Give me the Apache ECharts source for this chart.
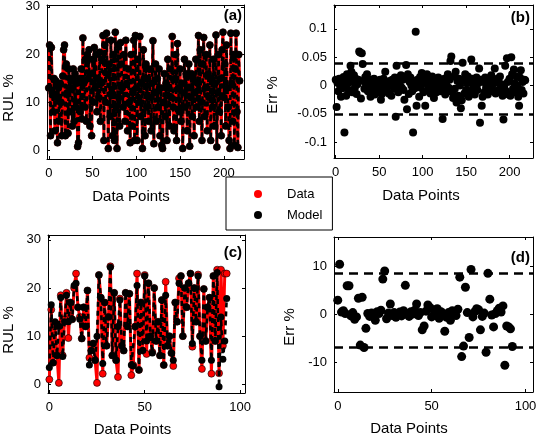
<!DOCTYPE html>
<html><head><meta charset="utf-8">
<script src="https://cdn.jsdelivr.net/npm/echarts@6/dist/echarts.min.js"></script>
<style>html,body{margin:0;padding:0;background:#fff}#c{width:542px;height:442px}</style>
</head><body><div id="c"></div>
<script>
// Panel (a): RUL % (Data and Model coincide visually)
const dataA = [
13, 22, 3, 21.5, 12, 8, 15, 4, 14.5, 11,
1.5, 13, 6, 14, 10, 3, 15.5, 21, 22, 3,
18, 12, 3.5, 17, 8, 15, 13, 5, 17, 6,
16, 9, 14, 0.7, 1.5, 15, 8, 17, 6.5, 23.5,
14, 9, 19, 6, 20, 15, 21, 5, 16, 3,
19, 10, 21.5, 13, 20, 8, 15, 11, 20.5, 6,
14, 19, 24, 2, 22, 10, 24.5, 16, 0.3, 18,
7, 23, 12, 3, 20, 2, 24.7, 9, 0.3, 22,
11, 5, 22.5, 18, 13, 9, 20, 6, 23, 14,
4, 17, 10, 1.5, 20, 5, 12, 23, 2, 24,
13, 2, 19, 10, 23.8, 7, 14, 0.3, 21, 15,
3, 18, 9, 15, 6, 17, 11, 4, 14, 22.9,
1.3, 12, 18, 6, 15, 9, 17, 3, 13, 1,
0.3, 10, 16, 7, 14, 2, 19, 13, 5, 17,
11, 23.8, 9, 4, 15, 20, 2, 22.3, 13, 8,
17, 6, 14, 0.3, 12, 19, 9, 16, 4, 13,
18, 0.8, 11, 16, 7, 15, 3, 12, 19, 9,
14, 24, 6, 21, 10, 2, 18, 23.6, 7, 13,
20, 4, 16, 11, 22, 2, 15, 9, 19, 5,
14, 24.1, 0.6, 12, 20, 8, 15, 3, 21, 24.7,
11, 18, 5, 22, 13, 9, 2, 0.3, 24.5, 14,
6, 20, 1, 17, 24.5, 8, 0.5, 20, 14.5
];
const modelA = dataA;
// Panel (b): Err %
const errB = [
0.01, -0.038, 0.005, -0.01, 0.012, 0.0, -0.02, 0.008, -0.005, 0.015,
-0.083, 0.003, -0.018, 0.02, 0.004, -0.008, 0.01, 0.035, 0.024, -0.012,
0.006, 0.018, -0.004, 0.012, -0.015, 0.002, 0.01, 0.06, 0.058, -0.023,
0.057, 0.038, 0.008, -0.006, 0.015, 0.002, 0.02, -0.01, 0.005, -0.003,
-0.02, 0.01, -0.008, 0.004, 0.012, -0.016, 0.0, 0.008, -0.012, 0.006,
-0.004, 0.01, -0.025, -0.015, 0.003, 0.012, -0.006, 0.024, 0.006, -0.01,
0.004, -0.014, 0.008, 0.0, -0.018, 0.01, 0.002, -0.006, 0.014, -0.055,
0.035, 0.005, -0.012, 0.008, 0.0, 0.018, -0.004, 0.01, -0.008, -0.025,
0.012, 0.036, -0.042, 0.02, -0.015, 0.006, 0.014, 0.0, -0.01, -0.083,
0.008, -0.005, 0.095, -0.036, 0.01, 0.002, -0.02, 0.015, -0.004, 0.022,
0.006, -0.012, 0.018, -0.036, 0.004, 0.02, -0.008, 0.012, 0.0, -0.014,
0.008, 0.016, -0.005, -0.022, 0.01, 0.002, -0.012, 0.006, 0.014, -0.006,
0.003, -0.01, 0.008, -0.059, 0.0, 0.012, -0.016, 0.005, -0.008, 0.02,
-0.004, 0.01, 0.043, 0.051, -0.012, -0.022, 0.016, -0.006, 0.024, -0.03,
0.008, -0.018, 0.012, 0.0, -0.04, -0.026, 0.04, 0.01, -0.014, 0.02,
-0.008, 0.004, 0.016, -0.02, 0.006, -0.01, 0.046, 0.012, -0.004, 0.008,
-0.016, 0.002, 0.014, -0.008, 0.004, 0.03, -0.066, 0.01, -0.036, -0.02,
0.006, -0.012, 0.014, -0.004, 0.008, -0.016, 0.002, 0.012, -0.006, 0.018,
0.0, -0.01, 0.008, 0.03, -0.014, 0.006, 0.012, -0.008, 0.004, 0.016,
-0.012, 0.002, -0.018, -0.06, -0.004, 0.035, -0.01, 0.048, 0.006, -0.016,
0.012, -0.018, 0.05, 0.02, -0.006, 0.028, 0.004, -0.012, 0.016, 0.0,
-0.02, -0.036, 0.014, 0.027, -0.008, 0.006, -0.014, 0.01, 0.009
];
// Panel (c): RUL %
const dataC = [
1.0, 15.5, 4.5, 12, 6, 0.3, 18.5, 6, 13.5, 19,
9.6, 17, 13.5, 20, 23, 16, 14, 9.5, 16, 12,
19.5, 5.5, 7, 8.5, 5, 0.3, 22.7, 18, 2.2, 17,
8, 14, 24.5, 6, 19, 5, 1.5, 17.8, 8, 7,
19, 12, 18.8, 1.9, 4, 12, 23, 3, 17, 7,
22.7, 6.3, 21, 10, 6.7, 20, 9, 13, 6, 17.5,
4, 21.3, 8, 10, 6.5, 3.8, 17, 13, 22, 22.5,
10, 20, 16, 21, 23, 7.8, 20, 13, 22.8, 10,
3.2, 19.8, 9, 16, 18, 2.2, 22.5, 9, 23.8, 2.3,
23.8, 8, 23, 23
];
const modelC = [
3.5, 16.5, 4.5, 13, 6, 12, 18, 5.8, 13, 18.5,
13, 17, 13.5, 20.5, 21, 16, 13.5, 9.5, 16, 12,
19.5, 4, 7, 8.5, 5, 10, 22.7, 18, 4.3, 17,
8, 14, 24.3, 6, 19, 5, 12, 17.5, 8, 7,
19, 12, 18.8, 4, 3.8, 12, 20.5, 3, 17, 7,
22.5, 9, 21, 10, 6.5, 20, 9, 13, 6, 17.5,
4, 18.5, 8, 10, 6.5, 5, 17, 13, 21, 22.5,
10, 20, 16, 21, 23, 8.5, 20, 13, 22.5, 10,
5, 19.8, 9, 16, 18, 5, 22.5, 9, 23.2, -0.5,
14, 5.2, 9, 17.8
];
// Panel (d): Err %
const errD = [
3.0, 10.5, 0.5, 0.8, 0.2, 6.0, 6.0, -0.3, 0.4, -1.0,
-0.5, 3.4, -6.4, 3.6, -6.9, -2.9, 0.2, -0.4, 0.3, 0.0,
-1.2, 0.6, 0.2, 0.9, 7.4, 9.1, -0.9, 0.3, 2.2, -0.2,
0.4, -0.6, 0.1, 0.5, -0.3, 0.8, 6.1, 0.2, -0.4, 0.6,
0.1, 0.9, 2.2, -0.2, 0.4, -3.2, -2.4, 0.7, 2.0, 1.5,
-0.5, 1.0, 0.3, 1.2, -0.8, 0.6, 0.2, -3.5, -0.6, 0.4,
-1.2, 0.8, 0.3, -0.2, 1.1, 7.8, -8.8, -6.6, 5.7, 0.4,
-4.8, 9.4, -0.5, 0.6, 1.2, 1.0, -3.2, -0.4, 0.3, -7.9,
8.6, 3.2, -0.1, -2.6, 0.2, 0.8, 1.3, 0.5, 1.8, -10.6,
-2.4, -2.6, -3.0, -6.7
];
const xTicksTop = [0, 50, 100, 150, 200];
const xTicksBottom = [0, 50, 100];
const yTicksRUL = [0, 10, 20, 30];
const yTicksErrB = [-0.1, -0.05, 0, 0.05, 0.1];
const yTicksErrD = [-10, 0, 10];
const limitsB = [0.042, -0.054];
const limitsD = [8.7, -6.9];

const FONT = "'Liberation Sans', Arial, sans-serif";
const chart = echarts.init(document.getElementById('c'), null, {renderer: 'canvas'});

function xAxes(grid, min, max, ticks, nameGap, shift) {
  const base = {
    type: 'value', gridIndex: grid, min: min, max: max,
    splitLine: {show: false},
    axisLine: {show: true, onZero: false, lineStyle: {color: '#000', width: 1}},
    axisTick: {show: true, inside: true, length: 3, customValues: ticks, lineStyle: {color: '#000'}}
  };
  return [
    Object.assign({}, base, {
      position: 'bottom',
      name: 'Data Points', nameLocation: 'middle', nameGap: nameGap,
      nameTextStyle: {fontFamily: FONT, fontSize: 15, color: '#000', padding: [0, shift, 0, 0]},
      axisLabel: {show: true, customValues: ticks, margin: 8, fontFamily: FONT, fontSize: 13, color: '#000'}
    }),
    Object.assign({}, base, {position: 'top', axisLabel: {show: false}})
  ];
}
function yAxes(grid, min, max, ticks, name, nameGap, shift) {
  const base = {
    type: 'value', gridIndex: grid, min: min, max: max,
    splitLine: {show: false},
    axisLine: {show: true, onZero: false, lineStyle: {color: '#000', width: 1}},
    axisTick: {show: true, inside: true, length: 3, customValues: ticks, lineStyle: {color: '#000'}}
  };
  return [
    Object.assign({}, base, {
      position: 'left',
      name: name, nameLocation: 'middle', nameGap: nameGap,
      nameTextStyle: {fontFamily: FONT, fontSize: 15, color: '#000', padding: [0, shift, 0, 0]},
      axisLabel: {show: true, customValues: ticks, margin: 7, fontFamily: FONT, fontSize: 13, color: '#000'}
    }),
    Object.assign({}, base, {position: 'right', axisLabel: {show: false}})
  ];
}

function lineSeries(name, values, xi, yi, color, dashed) {
  return {
    name: name, type: 'line', xAxisIndex: xi, yAxisIndex: yi,
    data: values.map((v, i) => [i, v]),
    symbol: 'circle', symbolSize: 7, showSymbol: true,
    itemStyle: {color: color, borderColor: '#000', borderWidth: dashed ? 0 : 0.6, opacity: 1},
    lineStyle: {color: color, width: dashed ? 2.6 : 3, type: dashed ? [5, 4] : 'solid'},
    z: dashed ? 3 : 2
  };
}
function errSeries(values, xi, yi, size, limits) {
  return {
    name: 'Err', type: 'scatter', xAxisIndex: xi, yAxisIndex: yi,
    data: values.map((v, i) => [i, v]),
    symbol: 'circle', symbolSize: size,
    itemStyle: {color: '#000', opacity: 1},
    markLine: {
      silent: true, symbol: 'none', label: {show: false},
      lineStyle: {color: '#000', type: [9, 6], width: 2.5},
      data: limits.map(v => ({yAxis: v}))
    }
  };
}

const option = {
  animation: false,
  backgroundColor: '#fff',
  grid: [
    {left: 47, top: 5, width: 197, height: 154},
    {left: 334, top: 5, width: 199, height: 153},
    {left: 47, top: 235, width: 198, height: 158},
    {left: 334, top: 237, width: 199, height: 155}
  ],
  xAxis: [].concat(
    xAxes(0, -2, 223, xTicksTop, 30, 29),
    xAxes(1, -2, 227, xTicksTop, 30, 25),
    xAxes(2, -0.7, 102.6, xTicksBottom, 29, 28),
    xAxes(3, -2, 104, xTicksBottom, 29, 49)
  ),
  yAxis: [].concat(
    yAxes(0, -1.9, 30.4, yTicksRUL, 'RUL %', 31, 32),
    yAxes(1, -0.128, 0.142, yTicksErrB, 'Err %', 54, 27),
    yAxes(2, -1.8, 31, yTicksRUL, 'RUL %', 32, 32),
    yAxes(3, -16.2, 16.2, yTicksErrD, 'Err %', 37, 25)
  ),
  title: [
    {text: '(a)', right: 300, top: 8, padding: 0, textStyle: {fontFamily: FONT, fontSize: 15, fontWeight: 'bold', color: '#000'}},
    {text: '(b)', right: 12, top: 10, padding: 0, textStyle: {fontFamily: FONT, fontSize: 15, fontWeight: 'bold', color: '#000'}},
    {text: '(c)', right: 300, top: 245, padding: 0, textStyle: {fontFamily: FONT, fontSize: 15, fontWeight: 'bold', color: '#000'}},
    {text: '(d)', right: 12, top: 250, padding: 0, textStyle: {fontFamily: FONT, fontSize: 15, fontWeight: 'bold', color: '#000'}}
  ],
  legend: {
    data: ['Data', 'Model'],
    orient: 'vertical', left: 226, top: 177,
    padding: [10, 10, 8, 28], itemGap: 7,
    backgroundColor: '#fff', borderColor: '#000', borderWidth: 1,
    icon: 'circle', itemWidth: 8, itemHeight: 8,
    itemStyle: {borderWidth: 0},
    textStyle: {fontFamily: FONT, fontSize: 13, color: '#000', padding: [0, 0, 0, 20], lineHeight: 14},
    z: 10
  },
  series: [
    lineSeries('Data', dataA, 0, 0, '#ff0000', false),
    lineSeries('Model', modelA, 0, 0, '#000000', true),
    errSeries(errB, 2, 2, 8, limitsB),
    lineSeries('Data', dataC, 4, 4, '#ff0000', false),
    lineSeries('Model', modelC, 4, 4, '#000000', true),
    errSeries(errD, 6, 6, 9, limitsD)
  ]
};
chart.setOption(option);
</script>
</body></html>
